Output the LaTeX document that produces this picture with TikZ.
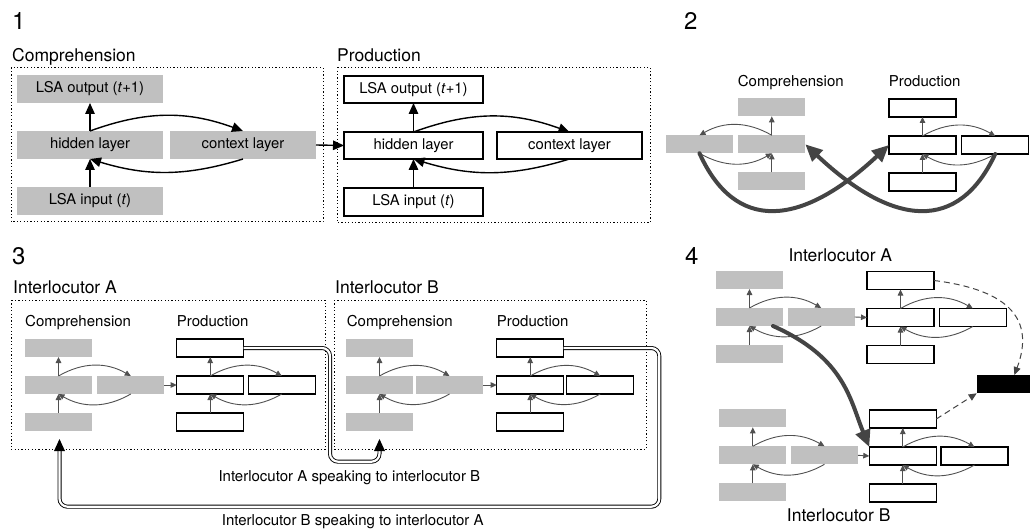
\documentclass[tikz,border=0pt]{standalone}
\usepackage{fontspec}
\setmainfont{TeX Gyre Heros}
\usetikzlibrary{arrows.meta}
\definecolor{gfill}{RGB}{192,192,192}
\definecolor{agray}{RGB}{80,80,80}
\definecolor{tgray}{RGB}{68,68,68}
\newcommand\fdig{\fontsize{24}{28}\selectfont}
\newcommand\fhead{\fontsize{17.5}{21}\selectfont}
\newcommand\fsub{\fontsize{15}{18}\selectfont}
\newcommand\fintext{\fontsize{14.8}{17}\selectfont}
% box: name, style, x1, y1, x2, y2, text
\newcommand\bx[7]{\node[#2, minimum width={(#5)-(#3)}, minimum height={(#6)-(#4)}] (#1) at ({((#3)+(#5))/2},{((#4)+(#6))/2}) {#7};}
% mini module: prefix, style, left column x, context x, top y, bend dir
\newcommand\mmod[6]{%
  \bx{#1o}{#2}{#3}{#5}{#3+67}{#5+18}{}
  \bx{#1h}{#2}{#3}{#5+37}{#3+67}{#5+55}{}
  \bx{#1i}{#2}{#3}{#5+74}{#3+67}{#5+92}{}
  \bx{#1c}{#2}{#4}{#5+37}{#4+67}{#5+55}{}
  \draw[sarr] (#1h.north) -- (#1o.south);
  \draw[sarr] (#1i.north) -- (#1h.south);
  \draw[sarr] (#1h.north) to[bend #6=30] (#1c.north);
  \draw[sarr] (#1c.south) to[bend #6=30] (#1h.south);
}
\begin{document}
\begin{tikzpicture}[x=1pt,y=-1pt,
  gbox/.style={fill=gfill, inner sep=0, outer sep=0},
  wbox/.style={draw=black, fill=white, line width=1.1pt, inner sep=0, outer sep=0},
  kbox/.style={fill=black, inner sep=0, outer sep=0},
  lbl/.style={inner sep=0, anchor=base west},
  barr/.style={draw=black, line width=1.4pt, -{Triangle[length=11pt,width=9.5pt]}},
  sarr/.style={draw=agray, line width=0.9pt, -{Triangle[length=6pt,width=5.5pt]}},
  tarr/.style={draw=tgray, line width=4pt, line cap=round, -{Triangle[length=17pt,width=15pt]}},
  darr/.style={draw=tgray, line width=1pt, dash pattern=on 6pt off 4pt, -{Triangle[length=8pt,width=7pt]}},
  dotbox/.style={draw=black, line width=1pt, dash pattern=on 1.2pt off 2.2pt},
  dbl/.style={draw=black, line width=0.9pt, double=white, double distance=2.2pt, rounded corners=8pt}
]
\useasboundingbox (0,0) rectangle (1030,529);

% ---------- Panel 1 ----------
\node[lbl] (n1) at (12,30) {\fdig 1};
\node[lbl] (l1c) at (12,62) {\fhead Comprehension};
\node[lbl] (l1p) at (337,61.7) {\fhead Production};
\draw[dotbox] (11,67.7) rectangle (323,221.7);
\draw[dotbox] (337,67.3) rectangle (650,222.7);
\bx{oo}{gbox}{17}{75}{163}{103}{\fintext LSA output (\textit{t}+1)}
\bx{oh}{gbox}{17}{131}{163}{159}{\fintext hidden layer}
\bx{oc}{gbox}{170}{131}{316}{159}{\fintext context layer}
\bx{oi}{gbox}{17}{187}{163}{215}{\fintext LSA input (\textit{t})}
\bx{po}{wbox}{344}{76}{483}{103}{\fintext LSA output (\textit{t}+1)}
\bx{ph}{wbox}{344}{132}{483}{159}{\fintext hidden layer}
\bx{pc}{wbox}{497}{132}{642}{159}{\fintext context layer}
\bx{pi}{wbox}{344}{188}{483}{216}{\fintext LSA input (\textit{t})}
\draw[barr] (oh.north) -- (oo.south);
\draw[barr] (oi.north) -- (oh.south);
\draw[barr] (oh.north) to[bend left=20] (oc.north);
\draw[barr] (oc.south) to[bend left=17] (oh.south);
\draw[barr] (ph.north) -- (po.south);
\draw[barr] (pi.north) -- (ph.south);
\draw[barr] (ph.north) to[bend left=20] (pc.north);
\draw[barr] (pc.south) to[bend left=17] (ph.south);
\draw[barr] (oc.east) -- (ph.west);

% ---------- Panel 2 ----------
\node[lbl] (n2) at (684,30) {\fdig 2};
\node[lbl] (l2c) at (737.7,86.7) {\fsub Comprehension};
\node[lbl] (l2p) at (888.7,86.7) {\fsub Production};
\mmod{bc}{gbox}{738.3}{666}{98.3}{right}
\mmod{bp}{wbox}{889}{961.7}{99}{left}
\draw[tarr] (bcc.south) .. controls (735,232) and (800,228) .. (bph.west);
\draw[tarr] (bpc.south) .. controls (959,232) and (894,228) .. (bch.east);

% ---------- Panel 3 ----------
\node[lbl] (n3) at (12,265) {\fdig 3};
\node[lbl] (l3a) at (13,293.5) {\fhead Interlocutor A};
\node[lbl] (l3b) at (335,293.5) {\fhead Interlocutor B};
\draw[dotbox] (11,300) rectangle (325,449.3);
\draw[dotbox] (334,300) rectangle (646,449.3);
\node[lbl] (l3ac) at (25,326.5) {\fsub Comprehension};
\node[lbl] (l3ap) at (176.7,326.5) {\fsub Production};
\node[lbl] (l3bc) at (346.7,326.5) {\fsub Comprehension};
\node[lbl] (l3bp) at (496.7,326.5) {\fsub Production};
\mmod{ca}{gbox}{25}{97.3}{339}{left}
\mmod{pa}{wbox}{176.7}{248.3}{339}{left}
\mmod{cb}{gbox}{346}{416}{339}{left}
\mmod{pb}{wbox}{496.7}{566.7}{339}{left}
\draw[sarr] (cac.east) -- (pah.west);
\draw[sarr] (cbc.east) -- (pbh.west);
% A speaking to B
\coordinate (ab1) at (330,461.7);
\coordinate (ab2) at (379.5,451);
\draw[dbl] (pao.east) -| (ab1) -| (ab2);
\fill[black] ([xshift=-5.5pt]ab2) -- ([xshift=5.5pt]ab2) -- ([yshift=12pt]ab2) -- cycle;
% B speaking to A
\coordinate (ba1) at (659.3,506.7);
\coordinate (ba2) at (59.5,451);
\draw[dbl] (pbo.east) -| (ba1) -| (ba2);
\fill[black] ([xshift=-5.5pt]ba2) -- ([xshift=5.5pt]ba2) -- ([yshift=12pt]ba2) -- cycle;
\node[lbl] (l3s1) at (218.3,481.7) {\fsub Interlocutor A speaking to interlocutor B};
\node[lbl] (l3s2) at (221.7,525) {\fsub Interlocutor B speaking to interlocutor A};

% ---------- Panel 4 ----------
\node[lbl] (n4) at (685,265) {\fdig 4};
\node[lbl] (l4a) at (788.3,261.7) {\fhead Interlocutor A};
\node[lbl] (l4b) at (786.7,521.7) {\fhead Interlocutor B};
\mmod{dca}{gbox}{716}{787.7}{271}{left}
\mmod{dpa}{wbox}{867}{939.3}{271.5}{left}
\mmod{dcb}{gbox}{719.3}{791}{409.3}{left}
\mmod{dpb}{wbox}{869.3}{941}{410}{left}
\draw[sarr] (dcac.east) -- (dpah.west);
\draw[sarr] (dcbc.east) -- (dpbh.west);
\bx{blk}{kbox}{976.7}{375}{1032}{393.3}{}
\coordinate (t4s) at (773,326);
\draw[tarr] (t4s) .. controls (845,358) and (850,400) .. (dpbh.north west);
\draw[darr] (dpao.east) .. controls (1010,290) and (1035,320) .. ([xshift=10pt]blk.north);
\draw[darr] (dpbo.east) -- (blk.south west);
\end{tikzpicture}
\end{document}
